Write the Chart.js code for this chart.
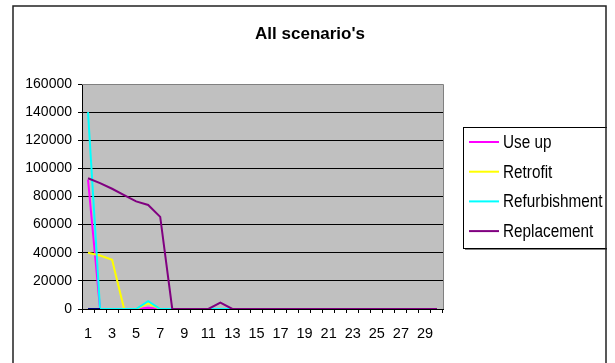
<!DOCTYPE html>
<html>
<head>
<meta charset="utf-8">
<script src="https://cdn.jsdelivr.net/npm/chart.js@4"></script>
<style>
  html, body { margin: 0; padding: 0; background: #fff; }
  #wrap { width: 615px; height: 363px; position: relative; }
</style>
</head>
<body>
<div id="wrap"><canvas id="chart" width="615" height="363"></canvas></div>
<script>
// data (years 1..30)
const years = Array.from({ length: 30 }, (_, i) => String(i + 1));

const useUp         = [92000, 0, 0, 0, 0, 800, 0, 0, 0, 0, 0, 0, 0, 0, 0, 0, 0, 0, 0, 0, 0, 0, 0, 0, 0, 0, 0, 0, 0, 0];
const retrofit      = [40000, 38000, 35000, 0, 0, 4000, 0, 0, 0, 0, 0, 0, 0, 0, 0, 0, 0, 0, 0, 0, 0, 0, 0, 0, 0, 0, 0, 0, 0, 0];
const refurbishment = [140000, 0, 0, 0, 0, 5500, 0, 0, 0, 0, 0, 0, 0, 0, 0, 0, 0, 0, 0, 0, 0, 0, 0, 0, 0, 0, 0, 0, 0, 0];
const replacement   = [93000, 89500, 85500, 81000, 76500, 74000, 65500, 0, 0, 0, 0, 4500, 0, 0, 0, 0, 0, 0, 0, 0, 0, 0, 0, 0, 0, 0, 0, 0, 0, 0];
const unnamed       = [0, 0]; // short dark line at the base, not in the legend

const yTicks = { min: 0, max: 160000, step: 20000 };

const series = [
  { label: "Use up",        data: useUp,         color: "#ff00ff", order: 4 },
  { label: "Retrofit",      data: retrofit,      color: "#ffff00", order: 3 },
  { label: "Refurbishment", data: refurbishment, color: "#00ffff", order: 2 },
  { label: "Replacement",   data: replacement,   color: "#800080", order: 1 },
];

const SANS = '"Liberation Sans", Arial, sans-serif';

// plot background + frame, title, outer border, legend
const excelLook = {
  id: "excelLook",
  beforeDraw(chart) {
    const { ctx, chartArea: a } = chart;
    ctx.save();
    ctx.fillStyle = "#fff";
    ctx.fillRect(0, 0, chart.width, chart.height);
    ctx.fillStyle = "#c0c0c0";
    ctx.fillRect(a.left, a.top, a.right - a.left, a.bottom - a.top);
    ctx.restore();
  },
  afterDraw(chart) {
    const { ctx, chartArea: a } = chart;
    ctx.save();

    // plot frame (top/right)
    ctx.strokeStyle = "#808080";
    ctx.lineWidth = 1;
    ctx.beginPath();
    ctx.moveTo(a.left, a.top + 0.5);
    ctx.lineTo(a.right + 0.5, a.top + 0.5);
    ctx.lineTo(a.right + 0.5, a.bottom);
    ctx.stroke();

    // title
    ctx.fillStyle = "#000";
    ctx.font = "bold 17px " + SANS;
    ctx.textAlign = "center";
    ctx.textBaseline = "middle";
    ctx.fillText("All scenario's", 310, 34);

    // legend box with shadow
    const lx = 463, ly = 127, lw = 150, lh = 121;
    ctx.fillStyle = "#808080";
    ctx.fillRect(lx + 2, ly + lh, lw, 2);
    ctx.fillStyle = "#fff";
    ctx.fillRect(lx, ly, lw, lh);
    ctx.strokeStyle = "#000";
    ctx.lineWidth = 1;
    ctx.strokeRect(lx + 0.5, ly + 0.5, lw, lh);

    ctx.font = "18px " + SANS;
    ctx.textAlign = "left";
    ctx.textBaseline = "middle";
    series.forEach((s, i) => {
      const y = 142 + i * 29.7;
      ctx.strokeStyle = s.color;
      ctx.lineWidth = 2;
      ctx.beginPath();
      ctx.moveTo(469, y);
      ctx.lineTo(499, y);
      ctx.stroke();
      // text in the reference is horizontally squeezed
      ctx.save();
      ctx.translate(503, y + 1);
      ctx.scale(0.85, 1);
      ctx.fillStyle = "#000";
      ctx.fillText(s.label, 0, 0);
      ctx.restore();
    });

    // white strip right of the outer border, then the border itself
    ctx.fillStyle = "#fff";
    ctx.fillRect(607, 0, 8, chart.height);
    ctx.strokeStyle = "#222";
    ctx.lineWidth = 1.5;
    ctx.beginPath();
    ctx.moveTo(13, chart.height);
    ctx.lineTo(13, 6);
    ctx.lineTo(606, 6);
    ctx.lineTo(606, chart.height);
    ctx.stroke();
    ctx.restore();
  }
};

const datasets = series.map(s => ({
  label: s.label,
  data: s.data,
  borderColor: s.color,
  backgroundColor: s.color,
  borderWidth: 2,
  pointRadius: 0,
  tension: 0,
  order: s.order
}));
datasets.push({
  label: "",
  data: unnamed,
  borderColor: "#000080",
  borderWidth: 2,
  pointRadius: 0,
  order: 0
});

new Chart(document.getElementById("chart"), {
  type: "line",
  data: { labels: years, datasets },
  options: {
    responsive: false,
    animation: false,
    events: [],
    layout: { padding: { left: 0, top: 84, right: 172, bottom: 0 } },
    plugins: {
      legend: { display: false },
      title: { display: false },
      tooltip: { enabled: false }
    },
    scales: {
      x: {
        type: "category",
        offset: true,
        grid: {
          display: true,
          offset: true,
          drawOnChartArea: false,
          drawTicks: true,
          tickLength: 4,
          tickColor: "#000"
        },
        border: { display: true, color: "#000", width: 1 },
        ticks: {
          autoSkip: false,
          maxRotation: 0,
          padding: 12,
          color: "#000",
          font: { family: SANS, size: 14.5 },
          callback: (v, i) => (i % 2 === 0 ? years[i] : "")
        },
        afterFit: (s) => { s.height = 363 - 309; }
      },
      y: {
        min: yTicks.min,
        max: yTicks.max,
        grid: {
          color: "#000",
          lineWidth: 1,
          drawTicks: true,
          tickLength: 4,
          tickColor: "#000"
        },
        border: { display: true, color: "#000", width: 1 },
        ticks: {
          stepSize: yTicks.step,
          padding: 6,
          color: "#000",
          font: { family: SANS, size: 14 },
          callback: (v) => String(v)
        },
        afterFit: (s) => { s.width = 82; }
      }
    }
  },
  plugins: [excelLook]
});
</script>
</body>
</html>
